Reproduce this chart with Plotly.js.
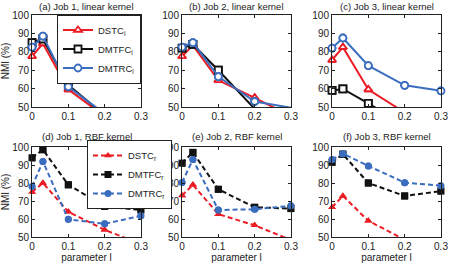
<!DOCTYPE html>
<html><head><meta charset="utf-8">
<script src="https://cdn.plot.ly/plotly-3.0.1.min.js"></script>
<style>html,body{margin:0;padding:0;background:#fff}#c{width:450px;height:264px}</style>
</head><body><div id="c"></div>
<script>
const paramL = [0, 0.03, 0.1, 0.2, 0.3];
const panelTitles = ["(a) Job 1, linear kernel","(b) Job 2, linear kernel","(c) Job 3, linear kernel",
                     "(d) Job 1, RBF kernel","(e) Job 2, RBF kernel","(f) Job 3, RBF kernel"];
// NMI (%) values per panel
const dstc  = [[77.5, 84.5, 59.5, 45, 40],
               [77.5, 83.5, 64.5, 55, 45],
               [75.5, 82.5, 59.5, 47, 42],
               [75, 80, 64, 54, 46],
               [73, 79, 62.7, 56.5, 48.3],
               [66.5, 72.8, 59, 48.5, 45]];
const dmtfc = [[85, 87, 62, 45.5, 42],
               [82, 84, 70, 49, 44],
               [59, 59.8, 52, 40, 35],
               [94, 98.5, 79, 67, 65],
               [91, 97, 76.5, 66.5, 65.8],
               [91.5, 96, 80, 72.8, 75.5]];
const dmtrc = [[82.5, 88.5, 61, 46.3, 41],
               [82.5, 85, 66.5, 53, 49.6],
               [82, 87.5, 72.5, 61.8, 58.8],
               [78, 92, 59.8, 57.3, 61.8],
               [80.3, 93, 65, 65.4, 67.3],
               [93, 96.3, 89.5, 80.2, 78.5]];
const namesLinear = ["DSTC<sub>l</sub>","DMTFC<sub>l</sub>","DMTRC<sub>l</sub>"];
const namesRBF = ["DSTC<sub>r</sub>","DMTFC<sub>r</sub>","DMTRC<sub>r</sub>"];

const colors = ["#ec1c24", "#111111", "#3b6dbf"];
const symbols = ["triangle-up", "square", "circle"];

const W = 450, H = 264;
const colsPx = [[32,141],[182,291],[332,441]];
const rowsPx = [[15,107],[147,237]];

const traces = [];
const layout = {
  width: W, height: H, margin: {l:0,r:0,t:0,b:0},
  paper_bgcolor: "#fff", plot_bgcolor: "#fff",
  font: {family: "Liberation Sans, Arial, sans-serif", size: 10, color: "#222"},
  showlegend: true, annotations: []
};

for (let p = 0; p < 6; p++) {
  const row = Math.floor(p/3), col = p%3;
  const idx = p+1;
  const xa = "xaxis" + (idx===1?"":idx), ya = "yaxis" + (idx===1?"":idx);
  const xr = "x" + (idx===1?"":idx), yr = "y" + (idx===1?"":idx);
  const axCommon = {showgrid:false, zeroline:false, showline:true, mirror:"ticks", linecolor:"#222", linewidth:1,
                    ticks:"inside", ticklen:3, tickcolor:"#222", tickfont:{size:10, color:"#222"}};
  layout[xa] = Object.assign({}, axCommon, {
    domain:[colsPx[col][0]/W, colsPx[col][1]/W], range:[0,0.3], tickvals:[0,0.1,0.2,0.3],
    ticktext:["0","0.1","0.2","0.3"], anchor: yr, fixedrange:true
  });
  layout[ya] = Object.assign({}, axCommon, {
    domain:[1-rowsPx[row][1]/H, 1-rowsPx[row][0]/H], range:[50,100], tickvals:[50,60,70,80,90,100],
    anchor: xr, fixedrange:true
  });
  if (col===0) layout[ya].title = {text:"NMI (%)", font:{size:10}, standoff:2};
  if (row===1) layout[xa].title = {text:"parameter l", font:{size:10}, standoff:1};
  layout.annotations.push({text: panelTitles[p], xref:"paper", yref:"paper",
    x:(colsPx[col][0]+colsPx[col][1])/2/W, y:1-(row===0?6.5:136)/H, xanchor:"center", yanchor:"middle",
    showarrow:false, font:{size:9.5, color:"#222"}});
  const series = [dstc[p], dmtfc[p], dmtrc[p]];
  const names = row===0 ? namesLinear : namesRBF;
  for (let s = 0; s < 3; s++) {
    const mk = row===0
      ? {symbol:symbols[s], size:7, color:"#fff", line:{color:colors[s], width:1.8}}
      : {symbol:symbols[s], size:7, color:colors[s], line:{color:colors[s], width:0}};
    traces.push({x:paramL, y:series[s], xaxis:xr, yaxis:yr, mode:"lines+markers", name:names[s],
      line:{color:colors[s], width:2, dash: row===0?"solid":"5px,3px"}, marker:mk,
      legend: row===0 ? "legend" : "legend2", showlegend: (p===0 || p===3), cliponaxis:true});
    const vx = [], vy = [];
    paramL.forEach((xv,i)=>{ if (series[s][i] >= 50) { vx.push(xv); vy.push(series[s][i]); } });
    traces.push({x:vx, y:vy, xaxis:xr, yaxis:yr, mode:"markers", marker:mk, showlegend:false,
      cliponaxis:false, hoverinfo:"skip"});
  }
}
layout.legend = {x:141/W, xanchor:"right", y:1-14.5/H, yanchor:"top", bgcolor:"#fff",
  bordercolor:"#222", borderwidth:1, font:{size:9.5, color:"#222"}, tracegroupgap:0, itemwidth:30};
layout.legend2 = {x:87/W, xanchor:"left", y:1-140/H, yanchor:"top", bgcolor:"#fff",
  bordercolor:"#222", borderwidth:1, font:{size:9.5, color:"#222"}, tracegroupgap:0, itemwidth:30};

Plotly.newPlot("c", traces, layout, {displayModeBar:false, staticPlot:true});
</script></body></html>
